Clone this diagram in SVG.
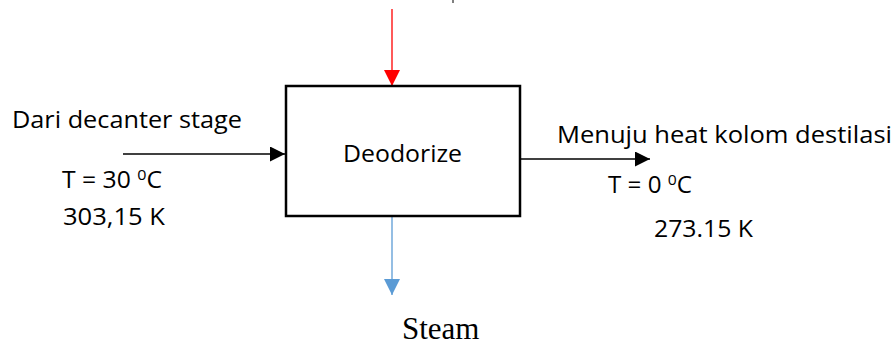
<svg xmlns="http://www.w3.org/2000/svg" width="894" height="345" viewBox="0 0 894 345">
  <style>
    .lbl { font-family: "Open Sans", "Liberation Sans", Arial, sans-serif; font-size: 23px; fill: #000; }
    .sup { font-size: 15px; }
    .serif { font-family: "Liberation Serif", "Times New Roman", serif; font-size: 31px; fill: #000; }
    .box { fill: #fff; stroke: #000; stroke-width: 2.5; }
    .flow { fill: none; stroke-width: 1.3; }
  </style>
  <defs>
    <marker id="headBlack" viewBox="0 0 10 10" refX="10" refY="5" markerWidth="15" markerHeight="15" markerUnits="userSpaceOnUse" orient="auto">
      <path d="M0,0 L10,5 L0,10 Z" fill="#000"/>
    </marker>
    <marker id="headRed" viewBox="0 0 10 10" refX="10" refY="5" markerWidth="16" markerHeight="16" markerUnits="userSpaceOnUse" orient="auto">
      <path d="M0,0 L10,5 L0,10 Z" fill="#ff0000"/>
    </marker>
    <marker id="headBlue" viewBox="0 0 10 10" refX="10" refY="5" markerWidth="16" markerHeight="16" markerUnits="userSpaceOnUse" orient="auto">
      <path d="M0,0 L10,5 L0,10 Z" fill="#5b9bd5"/>
    </marker>
  </defs>

  <!-- small mark at top edge -->
  <line x1="453" y1="0" x2="453" y2="3" stroke="#000" stroke-width="1"/>

  <g id="connectors">
    <line class="flow" x1="392" y1="9" x2="392" y2="86" stroke="#ff0000" marker-end="url(#headRed)"/>
    <line class="flow" x1="123" y1="154" x2="285" y2="154" stroke="#000" marker-end="url(#headBlack)"/>
    <line class="flow" x1="521" y1="159" x2="650" y2="159" stroke="#000" marker-end="url(#headBlack)"/>
    <line class="flow" x1="392" y1="217" x2="392" y2="295" stroke="#5b9bd5" marker-end="url(#headBlue)"/>
  </g>

  <g id="deodorize">
    <rect class="box" x="286" y="86" width="234" height="130"/>
    <text class="lbl" x="343" y="162" textLength="119" lengthAdjust="spacingAndGlyphs">Deodorize</text>
  </g>

  <g id="inlet-labels">
    <text class="lbl" x="12" y="128" textLength="230" lengthAdjust="spacingAndGlyphs">Dari decanter stage</text>
    <text class="lbl" x="62" y="188" textLength="100" lengthAdjust="spacingAndGlyphs">T = 30 <tspan class="sup" dy="-8">0</tspan><tspan dy="8">C</tspan></text>
    <text class="lbl" x="63" y="225" textLength="102" lengthAdjust="spacingAndGlyphs">303,15 K</text>
  </g>

  <g id="outlet-labels">
    <text class="lbl" x="557" y="143" textLength="335" lengthAdjust="spacingAndGlyphs">Menuju heat kolom destilasi</text>
    <text class="lbl" x="608" y="193" textLength="84" lengthAdjust="spacingAndGlyphs">T = 0 <tspan class="sup" dy="-8">0</tspan><tspan dy="8">C</tspan></text>
    <text class="lbl" x="654" y="237" textLength="99" lengthAdjust="spacingAndGlyphs">273.15 K</text>
  </g>

  <g id="steam-label">
    <text class="serif" x="402" y="339">Steam</text>
  </g>
</svg>
